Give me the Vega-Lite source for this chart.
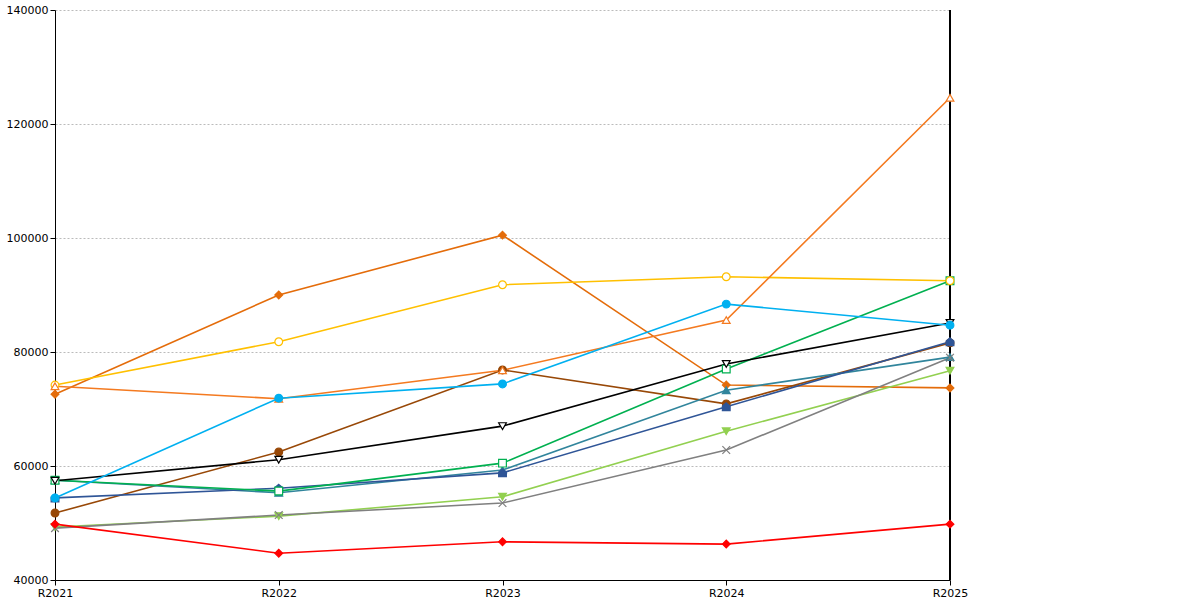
{
  "$schema": "https://vega.github.io/schema/vega-lite/v6.json",
  "width": 895,
  "height": 570,
  "autosize": {"type": "none"},
  "padding": {"left": 55, "top": 10, "right": 250, "bottom": 20},
  "background": "white",
  "config": {
    "font": "DejaVu Sans",
    "view": {"stroke": null},
    "axis": {"labelFont": "DejaVu Sans", "labelFontSize": 11, "labelColor": "#000", "domainColor": "#000", "tickColor": "#000"},
    "legend": {"labelFont": "DejaVu Sans", "labelFontSize": 12, "labelColor": "#000"}
  },
  "data": {
    "values": [
      {"s": "79,9 a méně", "y": "R2021", "v": 72600}, {"s": "79,9 a méně", "y": "R2022", "v": 90000}, {"s": "79,9 a méně", "y": "R2023", "v": 100500}, {"s": "79,9 a méně", "y": "R2024", "v": 74200}, {"s": "79,9 a méně", "y": "R2025", "v": 73700},
      {"s": "80 až 89,9", "y": "R2021", "v": 51750}, {"s": "80 až 89,9", "y": "R2022", "v": 62450}, {"s": "80 až 89,9", "y": "R2023", "v": 76850}, {"s": "80 až 89,9", "y": "R2024", "v": 70900}, {"s": "80 až 89,9", "y": "R2025", "v": 81600},
      {"s": "90 až 129,9", "y": "R2021", "v": 57500}, {"s": "90 až 129,9", "y": "R2022", "v": 55300}, {"s": "90 až 129,9", "y": "R2023", "v": 59300}, {"s": "90 až 129,9", "y": "R2024", "v": 73300}, {"s": "90 až 129,9", "y": "R2025", "v": 79100},
      {"s": "130 až 179,9", "y": "R2021", "v": 54400}, {"s": "130 až 179,9", "y": "R2022", "v": 56100}, {"s": "130 až 179,9", "y": "R2023", "v": 58800}, {"s": "130 až 179,9", "y": "R2024", "v": 70400}, {"s": "130 až 179,9", "y": "R2025", "v": 81800},
      {"s": "180 až 205,9", "y": "R2021", "v": 49300}, {"s": "180 až 205,9", "y": "R2022", "v": 51200}, {"s": "180 až 205,9", "y": "R2023", "v": 54600}, {"s": "180 až 205,9", "y": "R2024", "v": 66100}, {"s": "180 až 205,9", "y": "R2025", "v": 76700},
      {"s": "206 až 249,9", "y": "R2021", "v": 57500}, {"s": "206 až 249,9", "y": "R2022", "v": 55600}, {"s": "206 až 249,9", "y": "R2023", "v": 60500}, {"s": "206 až 249,9", "y": "R2024", "v": 77000}, {"s": "206 až 249,9", "y": "R2025", "v": 92500},
      {"s": "250 až 349,9", "y": "R2021", "v": 74200}, {"s": "250 až 349,9", "y": "R2022", "v": 81800}, {"s": "250 až 349,9", "y": "R2023", "v": 91800}, {"s": "250 až 349,9", "y": "R2024", "v": 93200}, {"s": "250 až 349,9", "y": "R2025", "v": 92500},
      {"s": "více než 350", "y": "R2021", "v": 74000}, {"s": "více než 350", "y": "R2022", "v": 71800}, {"s": "více než 350", "y": "R2023", "v": 76800}, {"s": "více než 350", "y": "R2024", "v": 85600}, {"s": "více než 350", "y": "R2025", "v": 124600},
      {"s": "všechny obce", "y": "R2021", "v": 57400}, {"s": "všechny obce", "y": "R2022", "v": 61100}, {"s": "všechny obce", "y": "R2023", "v": 67000}, {"s": "všechny obce", "y": "R2024", "v": 77900}, {"s": "všechny obce", "y": "R2025", "v": 85100},
      {"s": "Vybraná PS", "y": "R2021", "v": 49100}, {"s": "Vybraná PS", "y": "R2022", "v": 51400}, {"s": "Vybraná PS", "y": "R2023", "v": 53500}, {"s": "Vybraná PS", "y": "R2024", "v": 62800}, {"s": "Vybraná PS", "y": "R2025", "v": 79000},
      {"s": "Údaje vašeho úřadu", "y": "R2021", "v": 49800}, {"s": "Údaje vašeho úřadu", "y": "R2022", "v": 44700}, {"s": "Údaje vašeho úřadu", "y": "R2023", "v": 46700}, {"s": "Údaje vašeho úřadu", "y": "R2024", "v": 46300}, {"s": "Údaje vašeho úřadu", "y": "R2025", "v": 49800},
      {"s": "Údaje vybraného úřadu", "y": "R2021", "v": 54400}, {"s": "Údaje vybraného úřadu", "y": "R2022", "v": 71900}, {"s": "Údaje vybraného úřadu", "y": "R2023", "v": 74400}, {"s": "Údaje vybraného úřadu", "y": "R2024", "v": 88400}, {"s": "Údaje vybraného úřadu", "y": "R2025", "v": 84700}
    ]
  },
  "encoding": {
    "x": {"field": "y", "type": "ordinal", "scale": {"type": "point", "padding": 0}, "title": null,
      "axis": {"labelAngle": 0, "grid": false, "tickSize": 5}},
    "y": {"field": "v", "type": "quantitative", "scale": {"domain": [40000, 140000], "nice": false}, "title": null,
      "axis": {"values": [40000, 60000, 80000, 100000, 120000, 140000], "format": "d", "gridDash": [2, 2], "gridColor": "#bbb", "tickSize": 5}}
  },
  "layer": [
    {
      "mark": {"type": "rule", "color": "#000"},
      "encoding": {"x": {"datum": "R2025"}, "y": null}
    },
    {
      "mark": {"type": "line", "strokeWidth": 1.6},
      "encoding": {
        "stroke": {"field": "s", "type": "nominal", "legend": null}
      }
    },
    {
      "mark": {"type": "point", "size": 60, "opacity": 1, "strokeWidth": 1.2},
      "encoding": {
        "stroke": {"field": "s", "type": "nominal", "title": null,
          "scale": {"domain": ["79,9 a méně", "80 až 89,9", "90 až 129,9", "130 až 179,9", "180 až 205,9", "206 až 249,9", "250 až 349,9", "více než 350", "všechny obce", "Vybraná PS", "Údaje vašeho úřadu", "Údaje vybraného úřadu"],
            "range": ["#E46C0A", "#984807", "#31859C", "#2F5597", "#92D050", "#00B050", "#FFC000", "#F47A20", "#000000", "#808080", "#FF0000", "#00B0F0"]},
          "legend": {"orient": "right", "offset": 85, "strokeColor": "#000", "padding": 8, "rowPadding": 14, "symbolSize": 70, "fillColor": "white"}},
        "fill": {"field": "s", "type": "nominal", "title": null,
          "scale": {"domain": ["79,9 a méně", "80 až 89,9", "90 až 129,9", "130 až 179,9", "180 až 205,9", "206 až 249,9", "250 až 349,9", "více než 350", "všechny obce", "Vybraná PS", "Údaje vašeho úřadu", "Údaje vybraného úřadu"],
            "range": ["#E46C0A", "#984807", "#31859C", "#2F5597", "#92D050", "#FFFFFF", "#FFFFFF", "#FFFFFF", "#FFFFFF", "#FFFFFF", "#FF0000", "#00B0F0"]}},
        "shape": {"field": "s", "type": "nominal", "title": null,
          "scale": {"domain": ["79,9 a méně", "80 až 89,9", "90 až 129,9", "130 až 179,9", "180 až 205,9", "206 až 249,9", "250 až 349,9", "více než 350", "všechny obce", "Vybraná PS", "Údaje vašeho úřadu", "Údaje vybraného úřadu"],
            "range": ["diamond", "circle", "triangle-up", "M0,-1L1,-0.2L1,1L-1,1L-1,-0.2Z", "triangle-down", "square", "circle", "triangle-up", "triangle-down", "M-1,-1L1,1M-1,1L1,-1", "diamond", "circle"]}}
      }
    }
  ]
}
